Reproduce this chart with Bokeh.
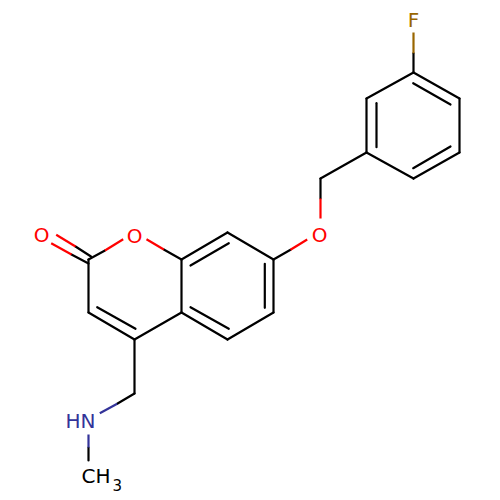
from bokeh.plotting import figure
from bokeh.core.properties import value
from bokeh.embed import file_html
from bokeh.resources import INLINE

BLACK = "#000000"
RED = "#FF0000"
BLUE = "#333399"
BROWN = "#996600"

# Black skeleton bonds (reference pixels)
black_x0 = [88, 88, 134, 181, 181, 227, 273, 273, 227, 134, 320, 366, 366, 413, 459, 459, 413,
            413, 134, 88, 88, 90.5, 88, 181, 273, 320]
black_y0 = [259, 312, 339, 312, 259, 232, 259, 312, 339, 339, 178, 152, 98, 72, 98, 152, 178,
            72, 393, 447, 263, 256, 259, 259, 259, 178]
black_x1 = [88, 134, 181, 181, 227, 273, 273, 227, 181, 134, 366, 366, 413, 459, 459, 413, 366,
            413, 116.7, 88, 71, 75, 104.5, 163.3, 290, 320]
black_y1 = [312, 339, 312, 259, 232, 259, 312, 339, 312, 393, 152, 98, 72, 98, 152, 178, 152,
            52.7, 403.3, 460, 254, 246, 250, 249, 249.3, 198]

# Inner strokes of the double bonds
inner_x0 = [190, 190, 96.7, 264.3, 412.7, 450, 376]
inner_y0 = [265, 306.7, 306.7, 263.3, 82.7, 146, 102.7]
inner_x1 = [228.3, 228.3, 135, 264.3, 450, 412.7, 376]
inner_y1 = [242.7, 328.3, 328.3, 307.3, 104, 167.7, 146.7]

# Coloured halves of the bonds to heteroatoms
red_x0 = [71, 75, 104.5, 163.3, 290, 320]
red_y0 = [254, 246, 250, 249, 249.3, 198]
red_x1 = [50.7, 55.7, 122.7, 146, 306.7, 320]
red_y1 = [242.7, 234.3, 238.7, 238.7, 239, 218]
blue_x0 = [116.7, 88]
blue_y0 = [403.3, 434]
blue_x1 = [99.3, 88]
blue_y1 = [412.7, 447]
brown_x0 = [413]
brown_y0 = [52.7]
brown_x1 = [413]
brown_y1 = [32]

# Atom labels
label_text = ["O", "O", "O", "F"]
label_x = [41, 134, 319, 413]
label_y = [234, 235, 234, 19]
label_col = [RED, RED, RED, BROWN]

p = figure(width=500, height=500, x_range=(0, 500), y_range=(500, 0),
           output_backend="svg", toolbar_location=None, min_border=0,
           background_fill_color="white", border_fill_color="white")
p.axis.visible = False
p.grid.visible = False
p.outline_line_color = None

W = 2.2
p.segment(black_x0, black_y0, black_x1, black_y1, line_color=BLACK, line_width=W, line_cap="round")
p.segment(inner_x0, inner_y0, inner_x1, inner_y1, line_color=BLACK, line_width=W, line_cap="round")
p.segment(red_x0, red_y0, red_x1, red_y1, line_color=RED, line_width=W)
p.segment(blue_x0, blue_y0, blue_x1, blue_y1, line_color=BLUE, line_width=W)
p.segment(brown_x0, brown_y0, brown_x1, brown_y1, line_color=BROWN, line_width=W)

font = value("DejaVu Sans")
p.text(label_x, label_y, text=label_text, text_color=label_col, text_font=font,
       text_font_size="20px", text_align="center", text_baseline="middle")
p.text([65], [420], text=["HN"], text_color=BLUE, text_font=font,
       text_font_size="20px", text_align="left", text_baseline="middle")
p.text([81], [475], text=["CH"], text_color=BLACK, text_font=font,
       text_font_size="20px", text_align="left", text_baseline="middle")
p.text([112], [484], text=["3"], text_color=BLACK, text_font=font,
       text_font_size="15px", text_align="left", text_baseline="middle")

open("out.html", "w").write(file_html(p, INLINE))
